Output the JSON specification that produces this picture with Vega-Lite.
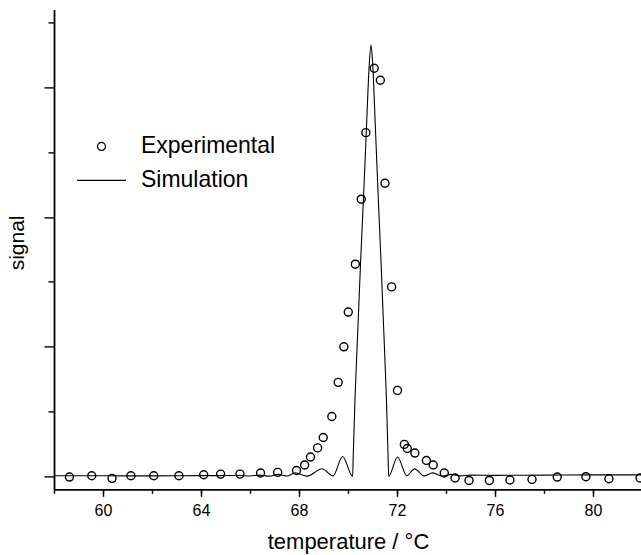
{
  "$schema": "https://vega.github.io/schema/vega-lite/v6.json",
  "width": 588,
  "height": 480,
  "autosize": "none",
  "padding": {"left": 54, "top": 9.4, "right": 0, "bottom": 66},
  "background": "white",
  "config": {
    "view": {"stroke": null},
    "font": "Liberation Sans",
    "axis": {"grid": false, "domainColor": "black", "tickColor": "black", "labelColor": "black", "titleColor": "black", "titleFontWeight": "normal", "labelFont": "Liberation Sans", "titleFont": "Liberation Sans"}
  },
  "datasets": {
    "exp": [
      {"t": 58.63, "v": -0.005, "series": "Experimental"},
      {"t": 59.54, "v": 0.005, "series": "Experimental"},
      {"t": 60.37, "v": -0.015, "series": "Experimental"},
      {"t": 61.14, "v": 0.005, "series": "Experimental"},
      {"t": 62.07, "v": 0.005, "series": "Experimental"},
      {"t": 63.1, "v": 0.005, "series": "Experimental"},
      {"t": 64.11, "v": 0.013, "series": "Experimental"},
      {"t": 64.8, "v": 0.018, "series": "Experimental"},
      {"t": 65.59, "v": 0.018, "series": "Experimental"},
      {"t": 66.43, "v": 0.026, "series": "Experimental"},
      {"t": 67.13, "v": 0.031, "series": "Experimental"},
      {"t": 67.9, "v": 0.046, "series": "Experimental"},
      {"t": 68.23, "v": 0.088, "series": "Experimental"},
      {"t": 68.47, "v": 0.15, "series": "Experimental"},
      {"t": 68.76, "v": 0.22, "series": "Experimental"},
      {"t": 68.99, "v": 0.3, "series": "Experimental"},
      {"t": 69.34, "v": 0.462, "series": "Experimental"},
      {"t": 69.6, "v": 0.725, "series": "Experimental"},
      {"t": 69.83, "v": 0.999, "series": "Experimental"},
      {"t": 70.01, "v": 1.267, "series": "Experimental"},
      {"t": 70.3, "v": 1.636, "series": "Experimental"},
      {"t": 70.54, "v": 2.137, "series": "Experimental"},
      {"t": 70.73, "v": 2.65, "series": "Experimental"},
      {"t": 71.07, "v": 3.146, "series": "Experimental"},
      {"t": 71.32, "v": 3.054, "series": "Experimental"},
      {"t": 71.51, "v": 2.26, "series": "Experimental"},
      {"t": 71.78, "v": 1.461, "series": "Experimental"},
      {"t": 72.02, "v": 0.663, "series": "Experimental"},
      {"t": 72.3, "v": 0.247, "series": "Experimental"},
      {"t": 72.42, "v": 0.215, "series": "Experimental"},
      {"t": 72.73, "v": 0.18, "series": "Experimental"},
      {"t": 73.2, "v": 0.123, "series": "Experimental"},
      {"t": 73.48, "v": 0.088, "series": "Experimental"},
      {"t": 73.93, "v": 0.026, "series": "Experimental"},
      {"t": 74.37, "v": -0.012, "series": "Experimental"},
      {"t": 74.94, "v": -0.031, "series": "Experimental"},
      {"t": 75.77, "v": -0.031, "series": "Experimental"},
      {"t": 76.61, "v": -0.028, "series": "Experimental"},
      {"t": 77.51, "v": -0.023, "series": "Experimental"},
      {"t": 78.54, "v": -0.005, "series": "Experimental"},
      {"t": 79.71, "v": -0.002, "series": "Experimental"},
      {"t": 80.65, "v": -0.018, "series": "Experimental"},
      {"t": 81.92, "v": -0.012, "series": "Experimental"}
    ],
    "sim": [
      {"t": 58.0, "v": 0.005},
      {"t": 60.0, "v": 0.005},
      {"t": 62.0, "v": 0.004},
      {"t": 64.0, "v": 0.006},
      {"t": 65.5, "v": 0.007},
      {"t": 66.0, "v": 0.003},
      {"t": 66.4, "v": 0.01},
      {"t": 66.8, "v": 0.002},
      {"t": 67.15, "v": 0.016},
      {"t": 67.5, "v": 0.003},
      {"t": 67.85, "v": 0.028},
      {"t": 68.33, "v": 0.002},
      {"t": 68.94, "v": 0.059},
      {"t": 69.39, "v": 0.004},
      {"t": 69.78, "v": 0.154},
      {"t": 70.19, "v": 0.0},
      {"t": 70.215, "v": 0.17},
      {"t": 70.289, "v": 0.616},
      {"t": 70.401, "v": 1.13},
      {"t": 70.512, "v": 1.644},
      {"t": 70.635, "v": 2.157},
      {"t": 70.75, "v": 2.67},
      {"t": 70.869, "v": 3.18},
      {"t": 70.94, "v": 3.326},
      {"t": 71.008, "v": 3.18},
      {"t": 71.122, "v": 2.67},
      {"t": 71.233, "v": 2.157},
      {"t": 71.35, "v": 1.644},
      {"t": 71.458, "v": 1.13},
      {"t": 71.565, "v": 0.616},
      {"t": 71.635, "v": 0.16},
      {"t": 71.66, "v": 0.0},
      {"t": 72.02, "v": 0.15},
      {"t": 72.4, "v": 0.006},
      {"t": 72.72, "v": 0.058},
      {"t": 73.1, "v": 0.004},
      {"t": 73.45, "v": 0.027},
      {"t": 73.85, "v": 0.003},
      {"t": 74.2, "v": 0.016},
      {"t": 74.6, "v": 0.004},
      {"t": 75.0, "v": 0.01},
      {"t": 76.0, "v": 0.008},
      {"t": 78.0, "v": 0.01},
      {"t": 80.0, "v": 0.012},
      {"t": 82.0, "v": 0.012}
    ]
  },
  "layer": [
    {
      "data": {"name": "sim"},
      "mark": {"type": "line", "color": "black", "strokeWidth": 1.1, "interpolate": "monotone", "clip": true},
      "encoding": {
        "x": {"field": "t", "type": "quantitative", "scale": {"domain": [58, 82], "nice": false, "zero": false},
          "axis": {"orient": "bottom", "values": [58, 60, 62, 64, 66, 68, 70, 72, 74, 76, 78, 80, 82], "tickSize": 4, "tickWidth": 1.4, "labels": false, "title": null, "domain": true, "domainWidth": 1.8}},
        "y": {"field": "v", "type": "quantitative", "scale": {"domain": [-0.1, 3.6], "nice": false, "zero": false},
          "axis": {"orient": "left", "values": [0.5, 1.5, 2.5, 3.5], "tickSize": 6, "tickWidth": 1.4, "labels": false, "title": null, "domain": true, "domainWidth": 1.8}}
      }
    },
    {
      "data": {"name": "exp"},
      "mark": {"type": "point", "filled": false, "color": "black", "opacity": 1, "strokeWidth": 1.4},
      "encoding": {
        "x": {"field": "t", "type": "quantitative",
          "axis": {"orient": "bottom", "values": [60, 64, 68, 72, 76, 80], "tickSize": 7, "tickWidth": 1.4, "domain": false, "labelFontSize": 16, "labelBaseline": "alphabetic", "labelPadding": 19, "title": "temperature / °C", "titleFontSize": 22, "titleBaseline": "alphabetic", "titleY": 59}},
        "y": {"field": "v", "type": "quantitative",
          "axis": {"orient": "left", "values": [0, 1, 2, 3], "tickSize": 10, "tickWidth": 1.4, "domain": false, "labels": false, "title": "signal", "titleFontSize": 21, "titleBaseline": "alphabetic", "titleX": -31, "titleY": 233}},
        "shape": {"field": "series", "type": "nominal",
          "scale": {"domain": ["Experimental", "Simulation"], "range": ["circle", "stroke"]},
          "legend": {"orient": "none", "legendX": 22, "legendY": 120, "title": null, "padding": 0, "clipHeight": 34, "rowPadding": 0, "labelOffset": 14, "labelFontSize": 23, "labelFont": "Liberation Sans", "labelColor": "black", "symbolStrokeColor": "black", "symbolFillColor": "transparent", "symbolStrokeWidth": 1.2, "symbolOpacity": 1}},
        "size": {"field": "series", "type": "nominal",
          "scale": {"domain": ["Experimental", "Simulation"], "range": [64, 2401]},
          "legend": {"orient": "none", "legendX": 22, "legendY": 120, "title": null, "padding": 0, "clipHeight": 34, "rowPadding": 0, "labelOffset": 14, "labelFontSize": 23, "labelFont": "Liberation Sans", "labelColor": "black", "symbolStrokeColor": "black", "symbolFillColor": "transparent", "symbolStrokeWidth": 1.2, "symbolOpacity": 1}}
      }
    }
  ],
  "resolve": {"axis": {"x": "independent", "y": "independent"}}
}
